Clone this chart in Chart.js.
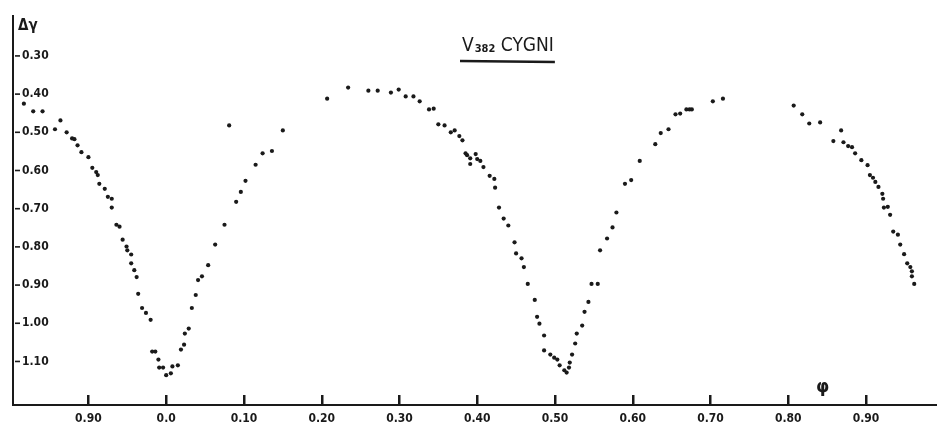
<!DOCTYPE html>
<html>
<head>
<meta charset="utf-8">
<script src="https://cdn.jsdelivr.net/npm/chart.js@4.4.0/dist/chart.umd.min.js"></script>
<style>
  html, body { margin: 0; padding: 0; background: #fff; overflow: hidden; }
  canvas { display: block; }
</style>
</head>
<body>
<canvas id="lightcurve" width="940" height="433"></canvas>
<script>
// V382 Cygni light curve
// phase runs past 0/1, so the left part (0.80..1.00) is plotted as negative phase
const phase = [
  -0.183, -0.171, -0.159, -0.143, -0.136, -0.128, -0.121, -0.118, -0.114, -0.109,
  -0.100, -0.095, -0.090, -0.088, -0.086, -0.079, -0.075, -0.070, -0.070, -0.064,
  -0.060, -0.056, -0.051, -0.050, -0.045, -0.045, -0.041, -0.038, -0.036, -0.031,
  -0.026, -0.020, -0.018, -0.014, -0.010, -0.009, -0.004, 0.000, 0.006, 0.008,
  0.015, 0.019, 0.023, 0.024, 0.029, 0.033, 0.038, 0.041, 0.046, 0.054,
  0.063, 0.075, 0.081, 0.090, 0.096, 0.102, 0.115, 0.124, 0.136, 0.150,
  0.207, 0.234, 0.260, 0.272, 0.289, 0.299, 0.308, 0.318, 0.326, 0.338,
  0.344, 0.350, 0.358, 0.366, 0.371, 0.377, 0.381, 0.385, 0.387, 0.391,
  0.391, 0.398, 0.400, 0.404, 0.408, 0.416, 0.422, 0.423, 0.428, 0.434,
  0.440, 0.448, 0.450, 0.457, 0.460, 0.465, 0.474, 0.477, 0.480, 0.486,
  0.486, 0.494, 0.499, 0.503, 0.506, 0.512, 0.515, 0.518, 0.519, 0.522,
  0.526, 0.528, 0.535, 0.538, 0.543, 0.547, 0.555, 0.558, 0.567, 0.574,
  0.579, 0.590, 0.598, 0.609, 0.629, 0.636, 0.646, 0.655, 0.661, 0.669,
  0.673, 0.676, 0.703, 0.716, 0.807, 0.818, 0.827, 0.841, 0.858, 0.868,
  0.871, 0.877, 0.882, 0.886, 0.894, 0.902, 0.905, 0.909, 0.912, 0.916,
  0.921, 0.922, 0.923, 0.928, 0.931, 0.935, 0.941, 0.944, 0.949, 0.953,
  0.957, 0.959, 0.959, 0.962
];
const deltaMag = [
  0.425, 0.445, 0.445, 0.492, 0.469, 0.500, 0.516, 0.518, 0.534, 0.552,
  0.565, 0.593, 0.604, 0.612, 0.635, 0.648, 0.669, 0.674, 0.697, 0.742,
  0.747, 0.781, 0.799, 0.809, 0.820, 0.843, 0.861, 0.879, 0.923, 0.960,
  0.973, 0.991, 1.074, 1.074, 1.095, 1.116, 1.116, 1.136, 1.131, 1.113,
  1.110, 1.069, 1.056, 1.027, 1.014, 0.960, 0.926, 0.887, 0.877, 0.848,
  0.794, 0.742, 0.482, 0.682, 0.656, 0.627, 0.585, 0.555, 0.549, 0.495,
  0.412, 0.383, 0.391, 0.391, 0.396, 0.388, 0.406, 0.406, 0.419, 0.440,
  0.438, 0.479, 0.482, 0.500, 0.495, 0.510, 0.521, 0.555, 0.560, 0.568,
  0.583, 0.557, 0.570, 0.575, 0.591, 0.614, 0.622, 0.645, 0.697, 0.726,
  0.744, 0.788, 0.817, 0.830, 0.853, 0.897, 0.939, 0.983, 1.001, 1.032,
  1.071, 1.082, 1.090, 1.095, 1.110, 1.123, 1.129, 1.116, 1.103, 1.082,
  1.053, 1.027, 1.006, 0.970, 0.944, 0.897, 0.897, 0.809, 0.778, 0.749,
  0.710, 0.635, 0.625, 0.575, 0.531, 0.502, 0.492, 0.453, 0.451, 0.440,
  0.440, 0.440, 0.419, 0.412, 0.430, 0.453, 0.477, 0.474, 0.523, 0.495,
  0.526, 0.536, 0.539, 0.555, 0.573, 0.586, 0.612, 0.619, 0.630, 0.643,
  0.661, 0.674, 0.697, 0.695, 0.716, 0.760, 0.768, 0.794, 0.819, 0.843,
  0.853, 0.864, 0.877, 0.897
];

const xTickValues = [-0.1, 0.0, 0.1, 0.2, 0.3, 0.4, 0.5, 0.6, 0.7, 0.8, 0.9];
const xTickLabels = ['0.90', '0.0', '0.10', '0.20', '0.30', '0.40', '0.50', '0.60', '0.70', '0.80', '0.90'];
const yTickValues = [0.3, 0.4, 0.5, 0.6, 0.7, 0.8, 0.9, 1.0, 1.1];
const yTickLabels = ['0.30', '0.40', '0.50', '0.60', '0.70', '0.80', '0.90', '1.00', '1.10'];

const titleMain = 'V';
const titleSub = '382';
const titleRest = ' CYGNI';
const yAxisName = 'Δγ';
const xAxisName = 'φ';

const points = phase.map((p, i) => ({ x: p, y: deltaMag[i] }));
const ink = '#1a1a1a';
const fontFam = '"DejaVu Sans Condensed", "DejaVu Sans", sans-serif';

// axis names, tick marks and the underlined title
const decorations = {
  id: 'decorations',
  afterDraw(chart) {
    const ctx = chart.ctx;
    const xs = chart.scales.x;
    const ys = chart.scales.y;
    const axisY = xs.top;
    const axisX = ys.right;
    ctx.save();
    ctx.strokeStyle = ink;
    ctx.fillStyle = ink;

    // upward ticks on the phase axis, drawn as thin filled bars
    xTickValues.forEach(v => {
      const px = Math.round(xs.getPixelForValue(v));
      ctx.fillRect(px - 1, axisY - 10, 2.5, 10);
    });
    // short dashes in front of the magnitude labels
    ctx.lineWidth = 1.6;
    yTickValues.forEach(v => {
      const py = ys.getPixelForValue(v);
      ctx.beginPath();
      ctx.moveTo(axisX + 2, py);
      ctx.lineTo(axisX + 7, py);
      ctx.stroke();
    });

    ctx.font = 'bold 15px ' + fontFam;
    ctx.textBaseline = 'middle';
    ctx.textAlign = 'left';
    ctx.fillText(yAxisName, axisX + 5, 26);
    ctx.font = 'bold 17px "DejaVu Sans", sans-serif';
    ctx.fillText(xAxisName, 816, 388);

    // title with subscript
    let tx = 462;
    const ty = 46;
    ctx.font = '19px ' + fontFam;
    ctx.fillText(titleMain, tx, ty);
    tx += ctx.measureText(titleMain).width + 1;
    ctx.font = 'bold 11px ' + fontFam;
    ctx.fillText(titleSub, tx, ty + 3);
    tx += ctx.measureText(titleSub).width;
    ctx.font = '19px ' + fontFam;
    ctx.fillText(titleRest, tx, ty);
    tx += ctx.measureText(titleRest).width;
    ctx.lineWidth = 2.4;
    ctx.beginPath();
    ctx.moveTo(460, 61);
    ctx.lineTo(tx + 1, 62);
    ctx.stroke();
    ctx.restore();
  }
};

new Chart(document.getElementById('lightcurve').getContext('2d'), {
  type: 'scatter',
  data: {
    datasets: [{
      label: 'V382 Cyg',
      data: points,
      backgroundColor: ink,
      borderColor: ink,
      pointRadius: 2.1,
      pointBorderWidth: 0
    }]
  },
  options: {
    responsive: false,
    animation: false,
    devicePixelRatio: 1,
    layout: { padding: { top: 13, right: 0, left: 0, bottom: 0 } },
    plugins: {
      legend: { display: false },
      tooltip: { enabled: false }
    },
    scales: {
      x: {
        type: 'linear',
        min: -0.197,
        max: 0.99,
        afterFit: s => { s.height = 28; },
        afterBuildTicks: s => { s.ticks = xTickValues.map(v => ({ value: v })); },
        grid: { display: false, drawTicks: false },
        border: { display: true, color: ink, width: 2 },
        ticks: {
          color: ink,
          font: { family: fontFam, size: 12, weight: 'bold' },
          padding: 7,
          maxRotation: 0,
          autoSkip: false,
          callback: (v, i) => xTickLabels[i]
        }
      },
      y: {
        type: 'linear',
        reverse: true,
        min: 0.196,
        max: 1.214,
        afterFit: s => { s.width = 13; },
        afterBuildTicks: s => { s.ticks = yTickValues.map(v => ({ value: v })); },
        grid: { display: false, drawTicks: false },
        border: { display: true, color: ink, width: 2 },
        ticks: {
          color: ink,
          mirror: true,
          padding: 9,
          font: { family: fontFam, size: 12, weight: 'bold' },
          autoSkip: false,
          callback: (v, i) => yTickLabels[i]
        }
      }
    }
  },
  plugins: [decorations]
});
</script>
</body>
</html>
